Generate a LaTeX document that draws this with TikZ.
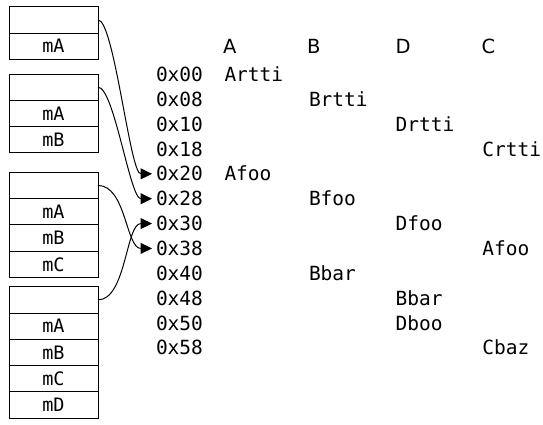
\documentclass[tikz,border=0pt]{standalone}
\usepackage{fontspec}
\newfontfamily\monofont{DejaVu Sans Mono}
\newfontfamily\hdrfont{DejaVu Sans}
\usetikzlibrary{arrows.meta}
\begin{document}
\begin{tikzpicture}[x=1pt,y=-1pt,
  cell/.style={draw, line width=1pt, minimum width=89pt, minimum height=26.3pt, inner sep=0pt, outer sep=0pt, anchor=north west, font=\monofont\fontsize{18.5}{20}\selectfont},
  lbl/.style={inner sep=0pt, outer sep=0pt, anchor=base west, font=\monofont\fontsize{19.5}{22}\selectfont},
  hdr/.style={inner sep=0pt, outer sep=0pt, anchor=base west, font=\hdrfont\fontsize{19.5}{22}\selectfont},
  link/.style={line width=1pt, -{Triangle[length=11.5pt,width=11pt]}}]
\useasboundingbox (0,0) rectangle (543,424);
% boxes
\node[cell] (b1h) at (9,6.7) {};
\node[cell] (b1a) at (9,33) {mA};
\node[cell] (b2h) at (9,74) {};
\node[cell] (b2a) at (9,100.3) {mA};
\node[cell] (b2b) at (9,126.6) {mB};
\node[cell] (b3h) at (9,172.3) {};
\node[cell] (b3a) at (9,198.6) {mA};
\node[cell] (b3b) at (9,224.9) {mB};
\node[cell] (b3c) at (9,251.2) {mC};
\node[cell] (b4h) at (9,286.7) {};
\node[cell] (b4a) at (9,313) {mA};
\node[cell] (b4b) at (9,339.3) {mB};
\node[cell] (b4c) at (9,365.6) {mC};
\node[cell] (b4d) at (9,391.9) {mD};
% headers
\node[hdr] (hA) at (223,53) {A};
\node[hdr] (hB) at (307,53) {B};
\node[hdr] (hD) at (395.7,53) {D};
\node[hdr] (hC) at (481.5,53) {C};
% addresses
\node[lbl] (a00) at (156,81.5) {0x00};
\node[lbl] (a08) at (156,106.36) {0x08};
\node[lbl] (a10) at (156,131.22) {0x10};
\node[lbl] (a18) at (156,156.08) {0x18};
\node[lbl] (a20) at (156,180.94) {0x20};
\node[lbl] (a28) at (156,205.8) {0x28};
\node[lbl] (a30) at (156,230.66) {0x30};
\node[lbl] (a38) at (156,255.52) {0x38};
\node[lbl] (a40) at (156,280.38) {0x40};
\node[lbl] (a48) at (156,305.24) {0x48};
\node[lbl] (a50) at (156,330.1) {0x50};
\node[lbl] (a58) at (156,354.96) {0x58};
% entries
\node[lbl] (e00) at (224.5,81.5) {Artti};
\node[lbl] (e08) at (309,106.36) {Brtti};
\node[lbl] (e10) at (395.7,131.22) {Drtti};
\node[lbl] (e18) at (482.3,156.08) {Crtti};
\node[lbl] (e20) at (224.5,180.94) {Afoo};
\node[lbl] (e28) at (309,205.8) {Bfoo};
\node[lbl] (e30) at (395.7,230.66) {Dfoo};
\node[lbl] (e38) at (482.3,255.52) {Afoo};
\node[lbl] (e40) at (309,280.38) {Bbar};
\node[lbl] (e48) at (395.7,305.24) {Bbar};
\node[lbl] (e50) at (395.7,330.1) {Dboo};
\node[lbl] (e58) at (482.3,354.96) {Cbaz};
% links
\draw[link] (b1h.east) .. controls +(16,0) and +(-22,0) .. ([xshift=-4pt]a20.west);
\draw[link] (b2h.east) .. controls +(16,0) and +(-22,0) .. ([xshift=-4pt]a28.west);
\draw[link] (b3h.east) .. controls +(28,0) and +(-26,0) .. ([xshift=-4pt]a38.west);
\draw[link] (b4h.east) .. controls +(28,0) and +(-26,0) .. ([xshift=-4pt]a30.west);
\end{tikzpicture}
\end{document}
